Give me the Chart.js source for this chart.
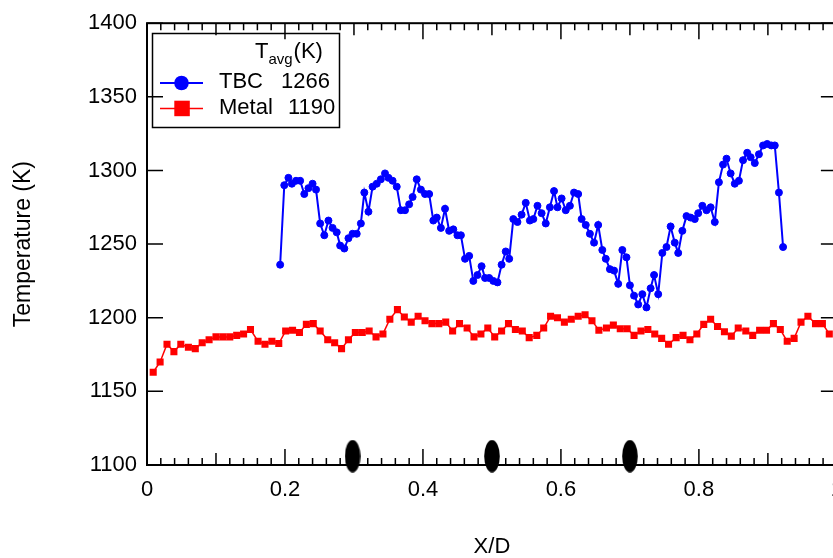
<!DOCTYPE html>
<html>
<head>
<meta charset="utf-8">
<title>Temperature along X/D</title>
<script src="https://cdn.jsdelivr.net/npm/chart.js@4.4.1/dist/chart.umd.min.js"></script>
<style>
  html, body { margin: 0; padding: 0; background: #fff; overflow: hidden; }
  #wrap { width: 855px; height: 558px; }
</style>
</head>
<body>
<div id="wrap"><canvas id="tempChart" width="855" height="558"></canvas></div>
<script>
// TBC surface temperature
const tbcX = [
  0.193, 0.199, 0.205, 0.210, 0.216, 0.222, 0.228, 0.234, 0.240, 0.245,
  0.251, 0.257, 0.263, 0.269, 0.275, 0.280, 0.286, 0.292, 0.298, 0.304,
  0.310, 0.315, 0.321, 0.327, 0.333, 0.339, 0.345, 0.350, 0.356, 0.362,
  0.368, 0.374, 0.380, 0.385, 0.391, 0.397, 0.403, 0.409, 0.415, 0.420,
  0.426, 0.432, 0.438, 0.444, 0.450, 0.455, 0.461, 0.467, 0.473, 0.479,
  0.485, 0.490, 0.496, 0.502, 0.508, 0.514, 0.520, 0.525, 0.531, 0.537,
  0.543, 0.549, 0.555, 0.560, 0.566, 0.572, 0.578, 0.584, 0.590, 0.595,
  0.601, 0.607, 0.613, 0.619, 0.625, 0.630, 0.636, 0.642, 0.648, 0.654,
  0.660, 0.665, 0.671, 0.677, 0.683, 0.689, 0.695, 0.700, 0.706, 0.712,
  0.718, 0.724, 0.730, 0.735, 0.741, 0.747, 0.753, 0.759, 0.765, 0.770,
  0.776, 0.782, 0.788, 0.794, 0.799, 0.805, 0.811, 0.817, 0.823, 0.829,
  0.835, 0.840, 0.846, 0.852, 0.858, 0.864, 0.870, 0.875, 0.881, 0.887,
  0.893, 0.899, 0.905, 0.910, 0.916, 0.922
];
const tbcT = [
  1236, 1290, 1295, 1291, 1293, 1293, 1284, 1288, 1291, 1287,
  1264, 1256, 1266, 1261, 1258, 1249, 1247, 1254, 1257, 1257,
  1264, 1285, 1272, 1289, 1291, 1294, 1298, 1295, 1293, 1289,
  1273, 1273, 1277, 1282, 1294, 1287, 1284, 1284, 1266, 1268,
  1261, 1274, 1259, 1260, 1256, 1256, 1240, 1242, 1225, 1229,
  1235, 1227, 1227, 1225, 1224, 1236, 1245, 1240, 1267, 1265,
  1270, 1278, 1266, 1267, 1276, 1271, 1264, 1275, 1286, 1275,
  1281, 1273, 1276, 1285, 1284, 1267, 1263, 1257, 1251, 1263,
  1246, 1240, 1233, 1232, 1223, 1246, 1241, 1222, 1215, 1209,
  1216, 1207, 1220, 1229, 1216, 1244, 1248, 1262, 1251, 1244,
  1259, 1269, 1268, 1267, 1271, 1276, 1273, 1275, 1265, 1292,
  1304, 1308, 1298, 1291, 1293, 1307, 1312, 1309, 1305, 1311,
  1317, 1318, 1317, 1317, 1285, 1248
];

// metal temperature
const metalX = [
  0.009, 0.019, 0.029, 0.039, 0.049, 0.060, 0.070, 0.080, 0.090, 0.100,
  0.110, 0.120, 0.130, 0.140, 0.150, 0.161, 0.171, 0.181, 0.191, 0.201,
  0.211, 0.221, 0.231, 0.241, 0.251, 0.262, 0.272, 0.282, 0.292, 0.302,
  0.312, 0.322, 0.332, 0.342, 0.352, 0.363, 0.373, 0.383, 0.393, 0.403,
  0.413, 0.423, 0.433, 0.443, 0.453, 0.464, 0.474, 0.484, 0.494, 0.504,
  0.514, 0.524, 0.534, 0.544, 0.554, 0.565, 0.575, 0.585, 0.595, 0.605,
  0.615, 0.625, 0.635, 0.645, 0.655, 0.666, 0.676, 0.686, 0.696, 0.706,
  0.716, 0.726, 0.736, 0.746, 0.756, 0.767, 0.777, 0.787, 0.797, 0.807,
  0.817, 0.827, 0.837, 0.847, 0.857, 0.868, 0.878, 0.888, 0.898, 0.908,
  0.918, 0.928, 0.938, 0.948, 0.958, 0.969, 0.979, 0.989
];
const metalT = [
  1163, 1170, 1182, 1177, 1182, 1180, 1179, 1183, 1185, 1187,
  1187, 1187, 1188, 1189, 1192, 1184, 1182, 1184, 1182.5, 1191,
  1191.5, 1190, 1195.5, 1196, 1191, 1185, 1183, 1179, 1185, 1190,
  1190, 1191, 1187, 1189, 1199, 1205.5, 1200.5, 1197, 1201, 1198,
  1196, 1196, 1197, 1191, 1196, 1193, 1187, 1189, 1193, 1187,
  1191, 1196, 1192, 1191, 1186.5, 1188, 1193, 1201, 1200, 1197,
  1199, 1201, 1202, 1198, 1191.5, 1193, 1195, 1192.5, 1192.5, 1188,
  1191, 1192, 1189, 1186, 1182, 1186.5, 1188, 1185, 1189, 1195.5,
  1199, 1194, 1190.5, 1187.5, 1193, 1191, 1188, 1191.5, 1191.5, 1196,
  1192, 1184, 1186, 1197, 1201, 1196, 1196, 1189
];

// black marks sitting on the x axis
const holeX = [0.298, 0.5, 0.7];
const holeT = [1106, 1106, 1106];

const xTicks = [0, 0.2, 0.4, 0.6, 0.8, 1];
const yTicks = [1100, 1150, 1200, 1250, 1300, 1350, 1400];

// legend rows: name, average temperature
const seriesNames = ['TBC', 'Metal'];
const seriesAvg = ['1266', '1190'];

const FONT = "'Liberation Sans', Arial, Helvetica, sans-serif";
Chart.defaults.font.family = FONT;
Chart.defaults.font.size = 22;
Chart.defaults.color = '#000';

// ellipse image used as point style for the hole marks
function makeEllipse() {
    const c = document.createElement('canvas');
    c.width = 16;
    c.height = 33;
    const g = c.getContext('2d');
    g.fillStyle = '#000';
    g.beginPath();
    g.ellipse(8, 16.5, 7.8, 16.2, 0, 0, Math.PI * 2);
    g.fill();
    return c;
}

// box frame with inward ticks on all four sides
const frameTicks = {
    id: 'frameTicks',
    afterDatasetsDraw(chart) {
        const { ctx, chartArea: a, scales: { x, y } } = chart;
        ctx.save();
        ctx.strokeStyle = '#000';
        ctx.lineWidth = 2;
        ctx.strokeRect(a.left, a.top, a.right - a.left, a.bottom - a.top);
        ctx.lineWidth = 1.5;
        ctx.beginPath();
        for (let i = 0; i <= 50; i++) {
            const px = x.getPixelForValue(i / 50);
            const len = i % 10 === 0 ? 16 : (i % 5 === 0 ? 12 : 7);
            ctx.moveTo(px, a.bottom);
            ctx.lineTo(px, a.bottom - len);
            ctx.moveTo(px, a.top);
            ctx.lineTo(px, a.top + len);
        }
        yTicks.forEach(v => {
            const py = y.getPixelForValue(v);
            ctx.moveTo(a.left, py);
            ctx.lineTo(a.left + 16, py);
            ctx.moveTo(a.right, py);
            ctx.lineTo(a.right - 16, py);
        });
        ctx.stroke();
        ctx.restore();
    }
};

// legend box with T_avg header
const avgLegend = {
    id: 'avgLegend',
    afterDraw(chart) {
        const ctx = chart.ctx;
        ctx.save();
        ctx.strokeStyle = '#000';
        ctx.lineWidth = 1.5;
        ctx.strokeRect(152.5, 33.5, 187, 94);

        ctx.fillStyle = '#000';
        ctx.textBaseline = 'alphabetic';
        ctx.font = '22px ' + FONT;
        ctx.fillText('T', 255, 58);
        let w = ctx.measureText('T').width;
        ctx.font = '15px ' + FONT;
        ctx.fillText('avg', 255 + w, 64);
        w += ctx.measureText('avg').width;
        ctx.font = '22px ' + FONT;
        ctx.fillText('(K)', 256 + w, 58);

        // TBC row
        ctx.strokeStyle = '#0000ff';
        ctx.fillStyle = '#0000ff';
        ctx.lineWidth = 2;
        ctx.beginPath();
        ctx.moveTo(160, 83);
        ctx.lineTo(203, 83);
        ctx.stroke();
        ctx.beginPath();
        ctx.arc(181.5, 83, 7.3, 0, Math.PI * 2);
        ctx.fill();

        // Metal row
        ctx.strokeStyle = '#ff0000';
        ctx.fillStyle = '#ff0000';
        ctx.lineWidth = 1.5;
        ctx.beginPath();
        ctx.moveTo(160, 108.5);
        ctx.lineTo(203, 108.5);
        ctx.stroke();
        ctx.fillRect(174.3, 100.7, 15.5, 15.5);

        ctx.fillStyle = '#000';
        ctx.font = '22px ' + FONT;
        ctx.fillText(seriesNames[0], 219, 88);
        ctx.fillText(seriesAvg[0], 281, 88);
        ctx.fillText(seriesNames[1], 219, 114);
        ctx.fillText(seriesAvg[1], 288, 114);
        ctx.restore();
    }
};

const ctx = document.getElementById('tempChart');
new Chart(ctx, {
    type: 'line',
    data: {
        datasets: [
            {
                label: seriesNames[0],
                data: tbcX.map((x, i) => ({ x: x, y: tbcT[i] })),
                borderColor: '#0000ff',
                backgroundColor: '#0000ff',
                borderWidth: 2,
                pointStyle: 'circle',
                pointRadius: 3.5,
                pointBorderWidth: 1,
                tension: 0
            },
            {
                label: seriesNames[1],
                data: metalX.map((x, i) => ({ x: x, y: metalT[i] })),
                borderColor: '#ff0000',
                backgroundColor: '#ff0000',
                borderWidth: 1.5,
                pointStyle: 'rect',
                pointRadius: 5,
                pointBorderWidth: 0,
                tension: 0
            },
            {
                label: 'holes',
                data: holeX.map((x, i) => ({ x: x, y: holeT[i] })),
                showLine: false,
                pointStyle: makeEllipse(),
                pointRadius: 8,
                clip: false
            }
        ]
    },
    options: {
        responsive: false,
        animation: false,
        layout: { padding: { top: 20, right: 8, left: 0, bottom: 0 } },
        plugins: {
            legend: { display: false },
            tooltip: { enabled: false }
        },
        scales: {
            x: {
                type: 'linear',
                min: 0,
                max: 1,
                grid: { display: false, drawTicks: false },
                border: { display: false },
                afterBuildTicks: s => { s.ticks = xTicks.map(v => ({ value: v })); },
                afterFit: s => { s.height = 93; },
                ticks: {
                    padding: 12,
                    maxRotation: 0,
                    callback: v => String(v)
                },
                title: {
                    display: true,
                    text: 'X/D',
                    font: { size: 22, lineHeight: 1 },
                    padding: 0
                }
            },
            y: {
                min: 1100,
                max: 1400,
                grid: { display: false, drawTicks: false },
                border: { display: false },
                afterBuildTicks: s => { s.ticks = yTicks.map(v => ({ value: v })); },
                afterFit: s => { s.width = 147; },
                ticks: { padding: 10, callback: v => String(v) },
                title: {
                    display: true,
                    text: 'Temperature (K)',
                    font: { size: 23, lineHeight: 1 },
                    padding: { top: 12, bottom: 0 }
                }
            }
        }
    },
    plugins: [frameTicks, avgLegend]
});
</script>
</body>
</html>
